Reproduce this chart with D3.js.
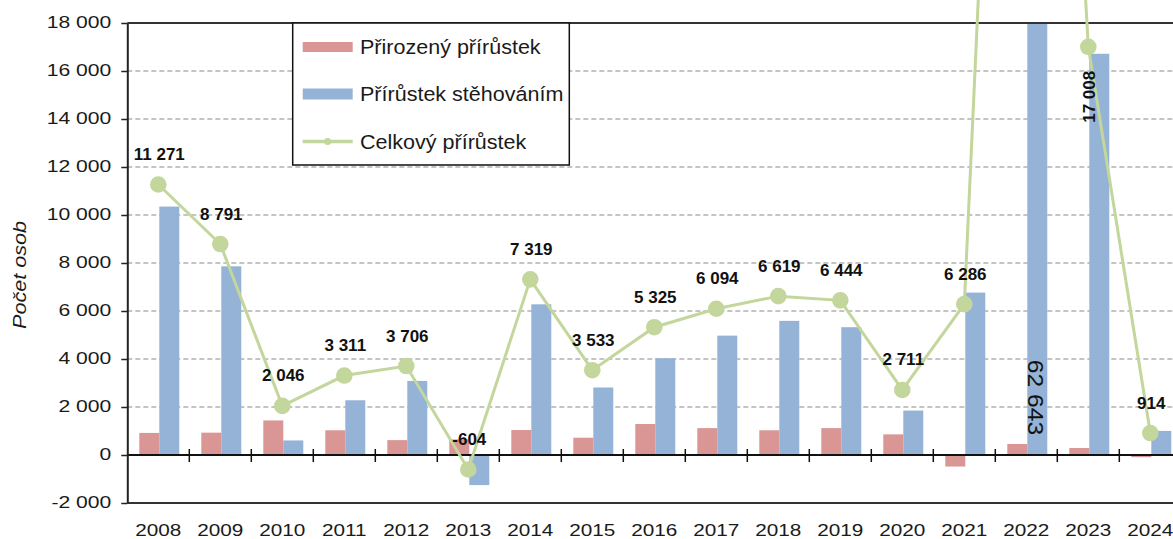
<!DOCTYPE html>
<html>
<head>
<meta charset="utf-8">
<script src="https://cdn.jsdelivr.net/npm/d3@7"></script>
<style>
  html, body { margin: 0; padding: 0; background: #fff; }
  svg { display: block; }
  text { font-family: "Liberation Sans", Arial, sans-serif; }
</style>
</head>
<body>
<svg id="chart" width="1173" height="539"></svg>
<script>
// ---------------- data ----------------
const years = ["2008","2009","2010","2011","2012","2013","2014","2015","2016","2017","2018","2019","2020","2021","2022","2023","2024"];
const naturalIncrease = [920, 930, 1440, 1030, 620, 650, 1040, 720, 1290, 1120, 1030, 1120, 860, -480, 460, 290, -90];
const migrationIncrease = [10351, 7861, 606, 2281, 3086, -1254, 6279, 2813, 4035, 4974, 5589, 5324, 1851, 6766, 62183, 16718, 1004];
const totalIncrease = [11271, 8791, 2046, 3311, 3706, -604, 7319, 3533, 5325, 6094, 6619, 6444, 2711, 6286, 62643, 17008, 914];
const yTickValues = [-2000, 0, 2000, 4000, 6000, 8000, 10000, 12000, 14000, 16000, 18000];
const seriesNames = ["Přirozený přírůstek", "Přírůstek stěhováním", "Celkový přírůstek"];
const yAxisTitle = "Počet osob";

// ---------------- setup ----------------
const svg = d3.select("#chart");
const colNat = "#d99694", colMig = "#95b3d7", colTot = "#c3d69b";
const plot = { left: 127.3, right: 1181.3, top: 23, bottom: 503 };

const x = d3.scaleBand().domain(years).range([plot.left, plot.right]).padding(0);
const xs = d3.scaleBand().domain(["nat", "mig"]).range([1, x.bandwidth() + 1]).paddingInner(0).paddingOuter(0.55);
const y = d3.scaleLinear().domain([-2000, 18000]).range([plot.bottom, plot.top]);
const cx = d => x(d) + x.bandwidth() / 2;

const loc = d3.formatLocale({ decimal: ",", thousands: " ", grouping: [3], currency: ["", ""], minus: "-" });
const fmt = loc.format(",d");

function stretch(sel, k) {
  sel.each(function () {
    const l = this.getComputedTextLength();
    this.setAttribute("textLength", l * k);
    this.setAttribute("lengthAdjust", "spacingAndGlyphs");
  });
}

svg.append("defs").append("clipPath").attr("id", "plotclip")
  .append("rect").attr("x", plot.left).attr("y", plot.top)
  .attr("width", plot.right - plot.left).attr("height", plot.bottom - plot.top);

// gridlines
svg.append("g").selectAll("line")
  .data(yTickValues.filter(v => v > 0 && v < 18000))
  .join("line")
  .attr("x1", plot.left).attr("x2", plot.right)
  .attr("y1", d => y(d)).attr("y2", d => y(d))
  .attr("stroke", "#8a8a8a").attr("stroke-width", 1).attr("stroke-dasharray", "5,3");

// bars
const rows = years.map((yr, i) => ({ yr, nat: naturalIncrease[i], mig: migrationIncrease[i], tot: totalIncrease[i] }));
const barG = svg.append("g").attr("clip-path", "url(#plotclip)");
barG.selectAll("rect.nat").data(rows).join("rect").attr("class", "nat")
  .attr("x", d => x(d.yr) + xs("nat")).attr("width", xs.bandwidth())
  .attr("y", d => y(Math.max(0, d.nat))).attr("height", d => Math.abs(y(d.nat) - y(0)))
  .attr("fill", colNat);
barG.selectAll("rect.mig").data(rows).join("rect").attr("class", "mig")
  .attr("x", d => x(d.yr) + xs("mig")).attr("width", xs.bandwidth())
  .attr("y", d => y(Math.max(0, d.mig))).attr("height", d => Math.abs(y(d.mig) - y(0)))
  .attr("fill", colMig);

// zero line with category-boundary ticks
svg.append("line").attr("x1", plot.left).attr("x2", plot.right)
  .attr("y1", y(0)).attr("y2", y(0)).attr("stroke", "#111").attr("stroke-width", 2);
svg.append("g").selectAll("line").data(years.slice(1)).join("line")
  .attr("x1", d => x(d)).attr("x2", d => x(d))
  .attr("y1", y(0) - 6).attr("y2", y(0) + 7)
  .attr("stroke", "#111").attr("stroke-width", 1.5);

// top & bottom borders
[18000, -2000].forEach(v => {
  svg.append("line").attr("x1", plot.left).attr("x2", plot.right)
    .attr("y1", y(v)).attr("y2", y(v)).attr("stroke", "#333").attr("stroke-width", 2);
});

// y axis
const yAxis = svg.append("g").attr("transform", `translate(${plot.left},0)`)
  .call(d3.axisLeft(y).tickValues(yTickValues).tickSize(6).tickSizeOuter(0).tickPadding(10).tickFormat(fmt));
yAxis.select(".domain").attr("stroke", "#222").attr("stroke-width", 2);
yAxis.selectAll(".tick line").attr("stroke", "#222").attr("stroke-width", 1.5);
yAxis.selectAll(".tick text")
  .attr("font-size", 16.5).attr("fill", "#1a1a1a").attr("dy", "0.28em")
  .style("font-family", "'Liberation Sans', Arial, sans-serif")
  .call(stretch, 1.28);

// x labels
svg.append("g").selectAll("text").data(years).join("text")
  .attr("x", d => cx(d)).attr("y", 536)
  .attr("text-anchor", "middle").attr("font-size", 17).attr("fill", "#1a1a1a")
  .text(d => d)
  .call(stretch, 1.22);

// y title
svg.append("text")
  .attr("transform", "translate(26,275) rotate(-90)")
  .attr("text-anchor", "middle").attr("font-size", 18).attr("font-style", "italic").attr("fill", "#1a1a1a")
  .text(yAxisTitle)
  .call(stretch, 1.2);

// total line + markers
const line = d3.line().x(d => cx(d.yr)).y(d => y(d.tot));
svg.append("path").datum(rows).attr("d", line)
  .attr("fill", "none").attr("stroke", colTot).attr("stroke-width", 3);
svg.append("g").selectAll("circle").data(rows).join("circle")
  .attr("cx", d => cx(d.yr)).attr("cy", d => y(d.tot)).attr("r", 8.3)
  .attr("fill", colTot);

// data labels
const lab = svg.append("g");
rows.forEach(d => {
  if (d.yr === "2022") {
    lab.append("text")
      .attr("transform", `translate(${cx(d.yr) + 9},${y(2400)}) rotate(90)`)
      .attr("text-anchor", "middle").attr("dominant-baseline", "central")
      .attr("font-size", 22).attr("fill", "#111")
      .text(fmt(d.tot))
      .call(stretch, 1.12);
  } else if (d.yr === "2023") {
    lab.append("text")
      .attr("transform", `translate(${cx(d.yr) + 1},${y(d.tot) + 50}) rotate(-90)`)
      .attr("text-anchor", "middle").attr("dominant-baseline", "central")
      .attr("font-size", 17).attr("font-weight", "bold").attr("fill", "#111")
      .text(fmt(d.tot));
  } else {
    lab.append("text")
      .attr("x", cx(d.yr) + 1).attr("y", y(d.tot) - 30)
      .attr("text-anchor", "middle").attr("dominant-baseline", "central")
      .attr("font-size", 17).attr("font-weight", "bold").attr("fill", "#111")
      .text(fmt(d.tot));
  }
});

// legend
const lg = svg.append("g");
lg.append("rect").attr("x", 292.7).attr("y", 23).attr("width", 276.6).attr("height", 142)
  .attr("fill", "#fff").attr("stroke", "#111").attr("stroke-width", 1.5);
const rowsY = [47, 94, 141.5];
lg.append("rect").attr("x", 302.7).attr("y", rowsY[0] - 5).attr("width", 50).attr("height", 10).attr("fill", colNat);
lg.append("rect").attr("x", 302.7).attr("y", rowsY[1] - 5.5).attr("width", 50).attr("height", 11).attr("fill", colMig);
lg.append("line").attr("x1", 302.7).attr("x2", 352.7).attr("y1", rowsY[2]).attr("y2", rowsY[2])
  .attr("stroke", colTot).attr("stroke-width", 3.5);
lg.append("circle").attr("cx", 327.7).attr("cy", rowsY[2]).attr("r", 3.5).attr("fill", colTot);
lg.selectAll("text.lt").data(seriesNames).join("text").attr("class", "lt")
  .attr("x", 360).attr("y", (d, i) => rowsY[i] + 7)
  .attr("font-size", 20.5).attr("fill", "#1a1a1a")
  .text(d => d)
  .call(stretch, 1.05);
</script>
</body>
</html>
